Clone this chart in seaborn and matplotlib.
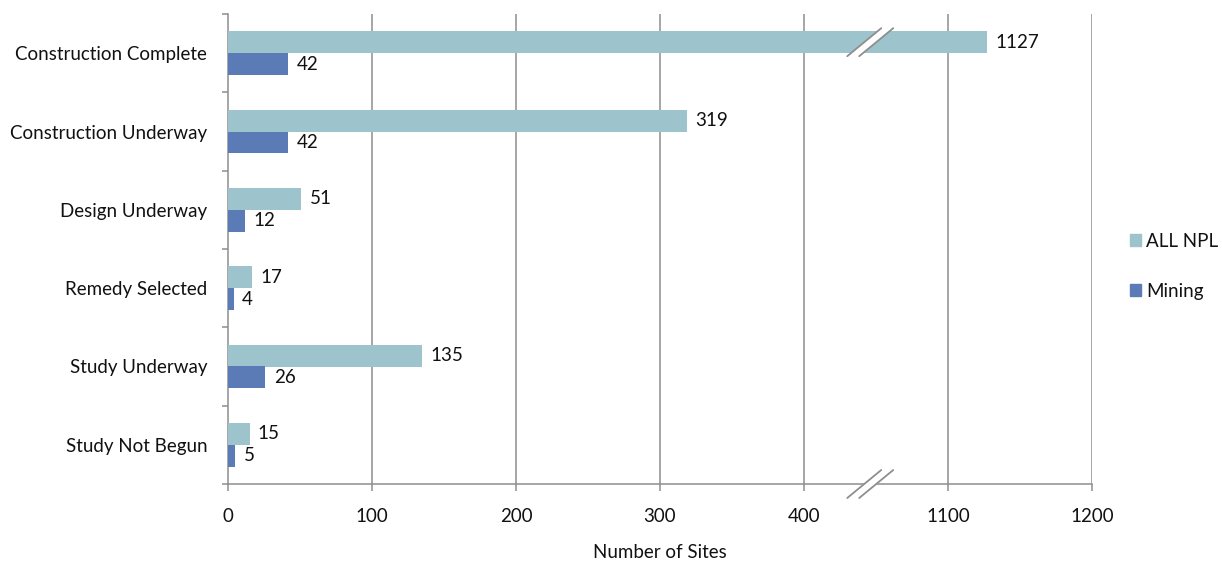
import numpy as np
import pandas as pd
import matplotlib
matplotlib.use("Agg")
import matplotlib.pyplot as plt
import matplotlib.patches as mpatches
from matplotlib.transforms import IdentityTransform
import seaborn as sns

# ---- data -------------------------------------------------------------
categories = ["Construction Complete", "Construction Underway", "Design Underway",
              "Remedy Selected", "Study Underway", "Study Not Begun"]
all_npl = [1127, 319, 51, 17, 135, 15]
mining = [42, 42, 12, 4, 26, 5]
series_names = ["ALL NPL", "Mining"]
x_ticks = [0, 100, 200, 300, 400, 1100, 1200]

df = pd.DataFrame({
    "Stage": categories * 2,
    "Sites": all_npl + mining,
    "Group": [series_names[0]] * len(categories) + [series_names[1]] * len(categories),
})

colors = {"ALL NPL": "#9DC3CD", "Mining": "#5B7BB7"}
grid_color = "#8E8E8E"
text_color = "#111111"

# broken x axis: values between GAP_LO and GAP_HI are squeezed out
GAP_LO, GAP_HI = 450, 1050
SHIFT = GAP_HI - GAP_LO


def fwd(x):
    x = np.asarray(x, dtype=float)
    return np.where(x <= GAP_LO, x, np.maximum(x - SHIFT, GAP_LO))


def inv(y):
    y = np.asarray(y, dtype=float)
    return np.where(y <= GAP_LO, y, y + SHIFT)


sns.set_theme(style="white")
plt.rcParams["font.family"] = ["Lato", "DejaVu Sans"]
FS = 13.5

fig = plt.figure(figsize=(12.22, 5.64), dpi=100)
W, H = 1222, 564
ax = fig.add_axes([228 / W, 1 - 484 / H, (1092 - 228) / W, (484 - 14) / H])
ax.set_xscale("function", functions=(fwd, inv))

sns.barplot(data=df, y="Stage", x="Sites", hue="Group", palette=colors,
            orient="h", width=0.56, ax=ax, saturation=1, legend=False,
            linewidth=0, zorder=3)

ax.set_xlim(0, 1200)
ax.set_xticks(x_ticks)
ax.set_xticklabels([str(t) for t in x_ticks])
ax.set_ylim(len(categories) - 0.5, -0.5)

# vertical gridlines
for t in x_ticks[1:]:
    ax.axvline(t, color=grid_color, lw=1.1, zorder=1)

for side in ("top", "right"):
    ax.spines[side].set_visible(False)
for side in ("left", "bottom"):
    ax.spines[side].set_color(grid_color)
    ax.spines[side].set_linewidth(1.1)

ax.tick_params(axis="x", direction="out", length=5, width=1.1, color=grid_color,
               pad=12, labelsize=FS, labelcolor=text_color, bottom=True)
ax.tick_params(axis="y", which="major", length=0, pad=15, labelsize=FS,
               labelcolor=text_color, left=True)
ax.set_yticks(np.arange(-0.5, len(categories), 1.0), minor=True)
ax.tick_params(axis="y", which="minor", direction="out", length=4, width=1.1,
               color=grid_color, left=True)
ax.grid(False)

ax.set_ylabel("")
ax.set_xlabel("Number of Sites", fontsize=FS, color=text_color, labelpad=14)

# value labels
for cont in ax.containers:
    ax.bar_label(cont, padding=6, fontsize=FS, color=text_color)

# legend
handles = [mpatches.Patch(color=colors[n], label=n) for n in series_names]
ax.legend(handles=handles, loc="center left", bbox_to_anchor=(1.044, 0.463),
          frameon=False, fontsize=FS, handlelength=0.6, handleheight=0.6,
          handletextpad=0.25, labelspacing=1.75, labelcolor=text_color,
          borderpad=0, borderaxespad=0)

# break marks (drawn in pixel space around the gap)
fig.canvas.draw()


def break_mark(cx, cy, half_w=17, half_h=14, sep=12):
    x0 = cx - sep / 2
    x1 = cx + sep / 2
    poly = mpatches.Polygon(
        [(x0 - half_w, cy - half_h), (x0 + half_w, cy + half_h),
         (x1 + half_w, cy + half_h), (x1 - half_w, cy - half_h)],
        closed=True, facecolor="white", edgecolor="none",
        transform=IdentityTransform(), zorder=10, clip_on=False)
    fig.add_artist(poly)
    for xx in (x0, x1):
        fig.add_artist(plt.Line2D([xx - half_w, xx + half_w], [cy - half_h, cy + half_h],
                                  color=grid_color, lw=1.3,
                                  transform=IdentityTransform(), zorder=11))


bar0 = ax.containers[0].patches[0]
bar_cy = bar0.get_y() + bar0.get_height() / 2
px_top = ax.transData.transform((446, bar_cy))
px_bot = ax.transData.transform((446, len(categories) - 0.5))
break_mark(px_top[0], px_top[1])
break_mark(px_bot[0], px_bot[1])

fig.savefig("out.png", dpi=100, facecolor="white")
